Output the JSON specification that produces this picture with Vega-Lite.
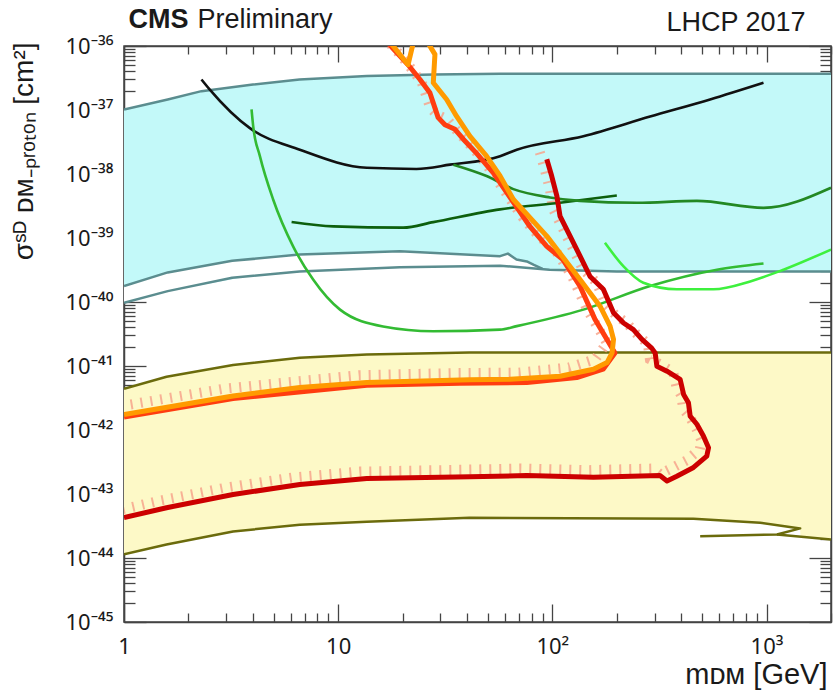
{
  "$schema": "https://vega.github.io/schema/vega-lite/v6.json",
  "width": 707,
  "height": 576,
  "autosize": {"type": "none"},
  "padding": {"left": 124, "top": 46, "right": 2, "bottom": 69},
  "background": "white",
  "config": {
    "view": {"stroke": "#444444", "strokeWidth": 1.5},
    "axis": {"grid": false, "zindex": 1, "labelFont": "Noto Sans", "titleFont": "Liberation Sans", "tickColor": "#444444", "domainColor": "#444444", "domainWidth": 1.5, "tickWidth": 1.3, "labelColor": "#1a1a1a", "titleColor": "#1a1a1a", "labelOverlap": false, "labelBound": false, "labelFlush": false}
  },
  "datasets": {
    "cyan": [
      {"x": 1, "lo": 9.7e-41, "hi": 1.02e-37},
      {"x": 1.6, "lo": 1.48e-40, "hi": 1.46e-37},
      {"x": 2.3, "lo": 1.85e-40, "hi": 1.97e-37},
      {"x": 4, "lo": 2.6e-40, "hi": 2.5e-37},
      {"x": 6.6, "lo": 3.0e-40, "hi": 3.0e-37},
      {"x": 13.6, "lo": 3.3e-40, "hi": 3.4e-37},
      {"x": 28, "lo": 3.5e-40, "hi": 3.6e-37},
      {"x": 57, "lo": 3.7e-40, "hi": 3.7e-37},
      {"x": 97, "lo": 3.2e-40, "hi": 3.7e-37},
      {"x": 200, "lo": 3.0e-40, "hi": 3.7e-37},
      {"x": 2000, "lo": 3.0e-40, "hi": 3.7e-37}
    ],
    "notch": [
      {"x": 1, "lo": 9.7e-41, "hi": 1.78e-40},
      {"x": 1.6, "lo": 1.48e-40, "hi": 2.9e-40},
      {"x": 3.2, "lo": 2.4e-40, "hi": 4.4e-40},
      {"x": 6.6, "lo": 3.0e-40, "hi": 5.5e-40},
      {"x": 19.4, "lo": 3.5e-40, "hi": 6.2e-40},
      {"x": 57, "lo": 3.7e-40, "hi": 5.2e-40},
      {"x": 62, "lo": 3.65e-40, "hi": 5.7e-40},
      {"x": 68, "lo": 3.6e-40, "hi": 4.6e-40},
      {"x": 76, "lo": 3.5e-40, "hi": 4.3e-40},
      {"x": 82, "lo": 3.4e-40, "hi": 3.8e-40},
      {"x": 90, "lo": 3.3e-40, "hi": 3.3e-40}
    ],
    "yellow": [
      {"x": 1, "lo": 1.14e-44, "hi": 4.4e-42},
      {"x": 1.58, "lo": 1.63e-44, "hi": 6.8e-42},
      {"x": 3.23, "lo": 2.6e-44, "hi": 1.04e-41},
      {"x": 6.62, "lo": 3.3e-44, "hi": 1.35e-41},
      {"x": 13.6, "lo": 3.7e-44, "hi": 1.51e-41},
      {"x": 41, "lo": 4.25e-44, "hi": 1.62e-41},
      {"x": 456, "lo": 4.1e-44, "hi": 1.62e-41},
      {"x": 934, "lo": 3.55e-44, "hi": 1.62e-41},
      {"x": 1436, "lo": 2.9e-44, "hi": 1.62e-41},
      {"x": 1440, "lo": 2.1e-44, "hi": 1.62e-41},
      {"x": 2000, "lo": 1.95e-44, "hi": 1.62e-41}
    ],
    "lines": [
      {"s": "cU", "o": 1, "x": 1, "y": 1.02e-37},
      {"s": "cU", "o": 2, "x": 1.6, "y": 1.46e-37},
      {"s": "cU", "o": 3, "x": 2.3, "y": 1.97e-37},
      {"s": "cU", "o": 4, "x": 4, "y": 2.5e-37},
      {"s": "cU", "o": 5, "x": 6.6, "y": 3.0e-37},
      {"s": "cU", "o": 6, "x": 13.6, "y": 3.4e-37},
      {"s": "cU", "o": 7, "x": 28, "y": 3.6e-37},
      {"s": "cU", "o": 8, "x": 57, "y": 3.7e-37},
      {"s": "cU", "o": 9, "x": 2000, "y": 3.7e-37},

      {"s": "cL0", "o": 1, "x": 1, "y": 9.7e-41},
      {"s": "cL0", "o": 2, "x": 1.6, "y": 1.48e-40},
      {"s": "cL0", "o": 3, "x": 3.2, "y": 2.4e-40},
      {"s": "cL0", "o": 4, "x": 6.6, "y": 3.0e-40},
      {"s": "cL0", "o": 5, "x": 19.4, "y": 3.5e-40},
      {"s": "cL0", "o": 6, "x": 57, "y": 3.7e-40},
      {"s": "cL0", "o": 7, "x": 97, "y": 3.2e-40},
      {"s": "cL0", "o": 8, "x": 200, "y": 3.0e-40},
      {"s": "cL0", "o": 9, "x": 2000, "y": 3.0e-40},

      {"s": "cL1", "o": 1, "x": 1, "y": 1.78e-40},
      {"s": "cL1", "o": 2, "x": 1.6, "y": 2.9e-40},
      {"s": "cL1", "o": 3, "x": 3.2, "y": 4.4e-40},
      {"s": "cL1", "o": 4, "x": 6.6, "y": 5.5e-40},
      {"s": "cL1", "o": 5, "x": 19.4, "y": 6.2e-40},
      {"s": "cL1", "o": 6, "x": 57, "y": 5.2e-40},
      {"s": "cL1", "o": 7, "x": 62, "y": 5.7e-40},
      {"s": "cL1", "o": 8, "x": 68, "y": 4.6e-40},
      {"s": "cL1", "o": 9, "x": 76, "y": 4.3e-40},
      {"s": "cL1", "o": 10, "x": 82, "y": 3.8e-40},
      {"s": "cL1", "o": 11, "x": 90, "y": 3.3e-40},

      {"s": "yU", "o": 1, "x": 1, "y": 4.4e-42},
      {"s": "yU", "o": 2, "x": 1.58, "y": 6.8e-42},
      {"s": "yU", "o": 3, "x": 3.23, "y": 1.04e-41},
      {"s": "yU", "o": 4, "x": 6.62, "y": 1.35e-41},
      {"s": "yU", "o": 5, "x": 13.6, "y": 1.51e-41},
      {"s": "yU", "o": 6, "x": 41, "y": 1.62e-41},
      {"s": "yU", "o": 7, "x": 2000, "y": 1.62e-41},

      {"s": "yA", "o": 1, "x": 1, "y": 1.14e-44},
      {"s": "yA", "o": 2, "x": 1.58, "y": 1.63e-44},
      {"s": "yA", "o": 3, "x": 3.23, "y": 2.6e-44},
      {"s": "yA", "o": 4, "x": 6.62, "y": 3.3e-44},
      {"s": "yA", "o": 5, "x": 13.6, "y": 3.7e-44},
      {"s": "yA", "o": 6, "x": 41, "y": 4.25e-44},
      {"s": "yA", "o": 7, "x": 456, "y": 4.1e-44},
      {"s": "yA", "o": 8, "x": 934, "y": 3.55e-44},
      {"s": "yA", "o": 9, "x": 1436, "y": 2.9e-44},
      {"s": "yA", "o": 10, "x": 1119, "y": 2.33e-44},
      {"s": "yA", "o": 11, "x": 490, "y": 2.19e-44},

      {"s": "yB", "o": 1, "x": 1119, "y": 2.33e-44},
      {"s": "yB", "o": 2, "x": 2000, "y": 1.95e-44},

      {"s": "black", "o": 1, "x": 2.3, "y": 3.0e-37},
      {"s": "black", "o": 2, "x": 2.51, "y": 2.1e-37},
      {"s": "black", "o": 3, "x": 3.87, "y": 5.2e-38},
      {"s": "black", "o": 4, "x": 6.62, "y": 2.4e-38},
      {"s": "black", "o": 5, "x": 13.6, "y": 1.25e-38},
      {"s": "black", "o": 6, "x": 23.2, "y": 1.2e-38},
      {"s": "black", "o": 7, "x": 33.3, "y": 1.4e-38},
      {"s": "black", "o": 8, "x": 57, "y": 1.9e-38},
      {"s": "black", "o": 9, "x": 68.2, "y": 2.4e-38},
      {"s": "black", "o": 10, "x": 139.6, "y": 3.9e-38},
      {"s": "black", "o": 11, "x": 286, "y": 7.9e-38},
      {"s": "black", "o": 12, "x": 545, "y": 1.46e-37},
      {"s": "black", "o": 13, "x": 968, "y": 2.66e-37},

      {"s": "g1", "o": 1, "x": 3.94, "y": 1.02e-37},
      {"s": "g1", "o": 2, "x": 4.01, "y": 5.6e-38},
      {"s": "g1", "o": 3, "x": 4.31, "y": 1.9e-38},
      {"s": "g1", "o": 4, "x": 4.97, "y": 4.0e-39},
      {"s": "g1", "o": 5, "x": 6.16, "y": 7.4e-40},
      {"s": "g1", "o": 6, "x": 7.64, "y": 2.24e-40},
      {"s": "g1", "o": 7, "x": 10.2, "y": 7.6e-41},
      {"s": "g1", "o": 8, "x": 16.2, "y": 4.15e-41},
      {"s": "g1", "o": 9, "x": 27.8, "y": 3.5e-41},
      {"s": "g1", "o": 10, "x": 57, "y": 3.7e-41},
      {"s": "g1", "o": 11, "x": 68.2, "y": 4.2e-41},
      {"s": "g1", "o": 12, "x": 139.6, "y": 7.6e-41},
      {"s": "g1", "o": 13, "x": 286, "y": 1.78e-40},
      {"s": "g1", "o": 14, "x": 587, "y": 3.2e-40},
      {"s": "g1", "o": 15, "x": 968, "y": 4.0e-40},

      {"s": "g2", "o": 1, "x": 176, "y": 8.4e-40},
      {"s": "g2", "o": 2, "x": 215, "y": 3.6e-40},
      {"s": "g2", "o": 3, "x": 266, "y": 2.0e-40},
      {"s": "g2", "o": 4, "x": 381, "y": 1.58e-40},
      {"s": "g2", "o": 5, "x": 565, "y": 1.58e-40},
      {"s": "g2", "o": 6, "x": 839, "y": 2.1e-40},
      {"s": "g2", "o": 7, "x": 1200, "y": 3.2e-40},
      {"s": "g2", "o": 8, "x": 2000, "y": 6.6e-40},

      {"s": "g3", "o": 1, "x": 6.06, "y": 1.78e-39},
      {"s": "g3", "o": 2, "x": 9.5, "y": 1.52e-39},
      {"s": "g3", "o": 3, "x": 20.1, "y": 1.45e-39},
      {"s": "g3", "o": 4, "x": 27.8, "y": 1.77e-39},
      {"s": "g3", "o": 5, "x": 57, "y": 2.8e-39},
      {"s": "g3", "o": 6, "x": 108.6, "y": 3.55e-39},
      {"s": "g3", "o": 7, "x": 200, "y": 4.6e-39},

      {"s": "g4", "o": 1, "x": 34.5, "y": 1.4e-38},
      {"s": "g4", "o": 2, "x": 49.3, "y": 9.3e-39},
      {"s": "g4", "o": 3, "x": 65.8, "y": 5.8e-39},
      {"s": "g4", "o": 4, "x": 97.5, "y": 4.3e-39},
      {"s": "g4", "o": 5, "x": 134.6, "y": 3.8e-39},
      {"s": "g4", "o": 6, "x": 248, "y": 3.55e-39},
      {"s": "g4", "o": 7, "x": 473, "y": 3.8e-39},
      {"s": "g4", "o": 8, "x": 968, "y": 2.96e-39},
      {"s": "g4", "o": 9, "x": 2000, "y": 6.1e-39},

      {"s": "orange", "o": 1, "x": 17.1, "y": 1.26e-36},
      {"s": "orange", "o": 2, "x": 21.2, "y": 5.1e-37},
      {"s": "orange", "o": 3, "x": 22.6, "y": 1.26e-36},
      {"s": "orange", "o": 4, "x": 25.7, "y": 1.26e-36},
      {"s": "orange", "o": 5, "x": 28.3, "y": 7.4e-37},
      {"s": "orange", "o": 6, "x": 27.8, "y": 2.66e-37},
      {"s": "orange", "o": 7, "x": 32.1, "y": 1.46e-37},
      {"s": "orange", "o": 8, "x": 35.7, "y": 8.0e-38},
      {"s": "orange", "o": 9, "x": 41.2, "y": 3.9e-38},
      {"s": "orange", "o": 10, "x": 49.3, "y": 1.9e-38},
      {"s": "orange", "o": 11, "x": 57, "y": 9.3e-39},
      {"s": "orange", "o": 12, "x": 65.8, "y": 4.0e-39},
      {"s": "orange", "o": 13, "x": 94.2, "y": 1.07e-39},
      {"s": "orange", "o": 14, "x": 134.6, "y": 2.25e-40},
      {"s": "orange", "o": 15, "x": 167, "y": 8.6e-41},
      {"s": "orange", "o": 16, "x": 186, "y": 4.2e-41},
      {"s": "orange", "o": 17, "x": 193, "y": 2.6e-41},
      {"s": "orange", "o": 18, "x": 190, "y": 1.6e-41},
      {"s": "orange", "o": 19, "x": 180, "y": 1.13e-41},
      {"s": "orange", "o": 20, "x": 155.5, "y": 8.9e-42},
      {"s": "orange", "o": 21, "x": 108.6, "y": 6.9e-42},
      {"s": "orange", "o": 22, "x": 63.5, "y": 6.2e-42},
      {"s": "orange", "o": 23, "x": 41.2, "y": 6.1e-42},
      {"s": "orange", "o": 24, "x": 13.6, "y": 5.5e-42},
      {"s": "orange", "o": 25, "x": 6.62, "y": 4.6e-42},
      {"s": "orange", "o": 26, "x": 3.23, "y": 3.4e-42},
      {"s": "orange", "o": 27, "x": 1.89, "y": 2.5e-42},
      {"s": "orange", "o": 28, "x": 1, "y": 1.74e-42},

      {"s": "ored", "o": 1, "x": 16.5, "y": 1.26e-36},
      {"s": "ored", "o": 2, "x": 21.2, "y": 5.1e-37},
      {"s": "ored", "o": 3, "x": 24.1, "y": 3.0e-37},
      {"s": "ored", "o": 4, "x": 26.8, "y": 1.86e-37},
      {"s": "ored", "o": 5, "x": 29.3, "y": 7.6e-38},
      {"s": "ored", "o": 6, "x": 31.5, "y": 5.9e-38},
      {"s": "ored", "o": 7, "x": 35.1, "y": 5.0e-38},
      {"s": "ored", "o": 8, "x": 38.4, "y": 3.5e-38},
      {"s": "ored", "o": 9, "x": 44.3, "y": 2.1e-38},
      {"s": "ored", "o": 10, "x": 53, "y": 1.04e-38},
      {"s": "ored", "o": 11, "x": 78.7, "y": 1.5e-39},
      {"s": "ored", "o": 12, "x": 94.2, "y": 7.4e-40},
      {"s": "ored", "o": 13, "x": 112, "y": 4.6e-40},
      {"s": "ored", "o": 14, "x": 134.6, "y": 1.77e-40},
      {"s": "ored", "o": 15, "x": 158, "y": 5.4e-41},
      {"s": "ored", "o": 16, "x": 196, "y": 1.6e-41},
      {"s": "ored", "o": 17, "x": 172.6, "y": 8.9e-42},
      {"s": "ored", "o": 18, "x": 130, "y": 6.6e-42},
      {"s": "ored", "o": 19, "x": 76, "y": 5.5e-42},
      {"s": "ored", "o": 20, "x": 37, "y": 5.4e-42},
      {"s": "ored", "o": 21, "x": 13.6, "y": 5.0e-42},
      {"s": "ored", "o": 22, "x": 3.23, "y": 3.1e-42},
      {"s": "ored", "o": 23, "x": 1, "y": 1.6e-42},

      {"s": "red", "o": 1, "x": 94.2, "y": 1.7e-38},
      {"s": "red", "o": 2, "x": 99.3, "y": 9.3e-39},
      {"s": "red", "o": 3, "x": 105, "y": 4.5e-39},
      {"s": "red", "o": 4, "x": 108.6, "y": 2.2e-39},
      {"s": "red", "o": 5, "x": 121, "y": 1.07e-39},
      {"s": "red", "o": 6, "x": 139.6, "y": 4.1e-40},
      {"s": "red", "o": 7, "x": 150, "y": 2.5e-40},
      {"s": "red", "o": 8, "x": 173, "y": 1.58e-40},
      {"s": "red", "o": 9, "x": 193, "y": 6.8e-41},
      {"s": "red", "o": 10, "x": 215, "y": 4.7e-41},
      {"s": "red", "o": 11, "x": 239, "y": 3.7e-41},
      {"s": "red", "o": 12, "x": 262, "y": 2.6e-41},
      {"s": "red", "o": 13, "x": 291, "y": 1.9e-41},
      {"s": "red", "o": 14, "x": 302, "y": 1.6e-41},
      {"s": "red", "o": 15, "x": 307.6, "y": 9.9e-42},
      {"s": "red", "o": 16, "x": 343, "y": 8.3e-42},
      {"s": "red", "o": 17, "x": 395, "y": 6.2e-42},
      {"s": "red", "o": 18, "x": 410, "y": 3.6e-42},
      {"s": "red", "o": 19, "x": 432, "y": 2.66e-42},
      {"s": "red", "o": 20, "x": 440, "y": 1.65e-42},
      {"s": "red", "o": 21, "x": 473, "y": 1.23e-42},
      {"s": "red", "o": 22, "x": 508, "y": 8.0e-43},
      {"s": "red", "o": 23, "x": 536, "y": 5.3e-43},
      {"s": "red", "o": 24, "x": 526, "y": 3.9e-43},
      {"s": "red", "o": 25, "x": 456, "y": 2.6e-43},
      {"s": "red", "o": 26, "x": 381, "y": 1.9e-43},
      {"s": "red", "o": 27, "x": 343, "y": 1.6e-43},
      {"s": "red", "o": 28, "x": 318, "y": 1.94e-43},
      {"s": "red", "o": 29, "x": 155.5, "y": 1.83e-43},
      {"s": "red", "o": 30, "x": 76, "y": 1.94e-43},
      {"s": "red", "o": 31, "x": 41.2, "y": 1.86e-43},
      {"s": "red", "o": 32, "x": 13.6, "y": 1.74e-43},
      {"s": "red", "o": 33, "x": 6.62, "y": 1.41e-43},
      {"s": "red", "o": 34, "x": 3.23, "y": 9.8e-44},
      {"s": "red", "o": 35, "x": 1.58, "y": 6.1e-44},
      {"s": "red", "o": 36, "x": 1, "y": 4.3e-44}
    ]
  },
  "resolve": {"axis": {"x": "independent", "y": "independent"}},
  "layer": [
    {
      "data": {"name": "cyan"},
      "mark": {"type": "area", "color": "#c3f9f9", "clip": true},
      "encoding": {
        "x": {"field": "x", "type": "quantitative", "scale": {"type": "log", "domain": [1, 2000], "nice": false},
          "axis": {"orient": "bottom", "values": [1, 10, 100, 1000],
            "labelExpr": "datum.value < 5 ? '1' : (datum.value < 50 ? '10' : (datum.value < 500 ? '10²' : '10³'))",
            "tickSize": -18,
            "labelFontSize": 22, "labelPadding": 32, "labelAlign": "center", "labelBaseline": "top",
            "title": "mᴅᴍ [GeV]", "titleFontSize": 29, "titleFontWeight": "normal", "titleX": 703, "titleY": 61, "titleAlign": "right", "titleBaseline": "alphabetic"}},
        "y": {"field": "lo", "type": "quantitative", "scale": {"type": "log", "domain": [1e-45, 1e-36], "nice": false},
          "axis": {"orient": "left", "values": [1e-45, 1e-44, 1e-43, 1e-42, 1e-41, 1e-40, 1e-39, 1e-38, 1e-37, 1e-36],
            "labelExpr": "'10⁻'+substring('⁰¹²³⁴⁵⁶⁷⁸⁹',floor(-round(log(datum.value)/LN10)/10),floor(-round(log(datum.value)/LN10)/10)+1)+substring('⁰¹²³⁴⁵⁶⁷⁸⁹',(-round(log(datum.value)/LN10))%10,(-round(log(datum.value)/LN10))%10+1)",
            "tickSize": -22,
            "labelFontSize": 22, "labelPadding": 33, "labelBaseline": "middle", "labelAlign": "right",
            "title": "σˢᴰ ᴅᴍ₋ₚᵣₒₜₒₙ [cm²]", "titleFontSize": 28, "titleFontWeight": "normal", "titleAngle": -90, "titleX": -100, "titleY": -4, "titleAlign": "right", "titleBaseline": "middle"}},
        "y2": {"field": "hi"}
      }
    },
    {
      "data": {"name": "notch"},
      "mark": {"type": "area", "color": "#ffffff", "clip": true},
      "encoding": {
        "x": {"field": "x", "type": "quantitative", "scale": {"type": "log", "domain": [1, 2000], "nice": false},
          "axis": {"orient": "top", "values": [1, 10, 100, 1000], "labels": false, "tickSize": -16,
            "title": "CMS", "titleFontSize": 27, "titleFontWeight": "bold", "titleX": 4, "titleY": -19, "titleAlign": "left", "titleBaseline": "alphabetic"}},
        "y": {"field": "lo", "type": "quantitative", "scale": {"type": "log", "domain": [1e-45, 1e-36], "nice": false},
          "axis": {"orient": "right", "values": [1e-45, 1e-44, 1e-43, 1e-42, 1e-41, 1e-40, 1e-39, 1e-38, 1e-37, 1e-36], "labels": false, "tickSize": -22,
            "title": "LHCP 2017", "titleFontSize": 27, "titleFontWeight": "normal", "titleAngle": 0, "titleX": -26, "titleY": -16, "titleAlign": "right", "titleBaseline": "alphabetic"}},
        "y2": {"field": "hi"}
      }
    },
    {
      "data": {"name": "yellow"},
      "mark": {"type": "area", "color": "#fdf9c7", "clip": true},
      "encoding": {
        "x": {"field": "x", "type": "quantitative", "scale": {"type": "log", "domain": [1, 2000], "nice": false},
          "axis": {"orient": "bottom", "values": [2,3,4,5,6,7,8,9,20,30,40,50,60,70,80,90,200,300,400,500,600,700,800,900,2000], "labels": false, "domain": false, "tickSize": -9, "title": null}},
        "y": {"field": "lo", "type": "quantitative", "scale": {"type": "log", "domain": [1e-45, 1e-36], "nice": false},
          "axis": {"orient": "left", "values": [2e-45,3e-45,4e-45,5e-45,6e-45,7e-45,8e-45,9e-45,2e-44,3e-44,4e-44,5e-44,6e-44,7e-44,8e-44,9e-44,2e-43,3e-43,4e-43,5e-43,6e-43,7e-43,8e-43,9e-43,2e-42,3e-42,4e-42,5e-42,6e-42,7e-42,8e-42,9e-42,2e-41,3e-41,4e-41,5e-41,6e-41,7e-41,8e-41,9e-41,2e-40,3e-40,4e-40,5e-40,6e-40,7e-40,8e-40,9e-40,2e-39,3e-39,4e-39,5e-39,6e-39,7e-39,8e-39,9e-39,2e-38,3e-38,4e-38,5e-38,6e-38,7e-38,8e-38,9e-38,2e-37,3e-37,4e-37,5e-37,6e-37,7e-37,8e-37,9e-37], "labels": false, "domain": false, "tickSize": -11, "title": null}},
        "y2": {"field": "hi"}
      }
    },
    {
      "data": {"name": "lines"},
      "transform": [{"filter": {"field": "s", "oneOf": ["cU", "cL0", "cL1", "yU", "yA", "yB"]}}],
      "mark": {"type": "line", "strokeWidth": 2.5, "clip": true, "strokeJoin": "round"},
      "encoding": {
        "x": {"field": "x", "type": "quantitative", "scale": {"type": "log", "domain": [1, 2000], "nice": false},
          "axis": {"orient": "top", "values": [2,3,4,5,6,7,8,9,20,30,40,50,60,70,80,90,200,300,400,500,600,700,800,900,2000], "labels": false, "domain": false, "tickSize": -8,
            "title": "Preliminary", "titleFont": "Liberation Sans", "titleFontSize": 27, "titleFontWeight": "normal", "titleX": 73, "titleY": -19, "titleAlign": "left", "titleBaseline": "alphabetic"}},
        "y": {"field": "y", "type": "quantitative", "scale": {"type": "log", "domain": [1e-45, 1e-36], "nice": false},
          "axis": {"orient": "right", "values": [2e-45,3e-45,4e-45,5e-45,6e-45,7e-45,8e-45,9e-45,2e-44,3e-44,4e-44,5e-44,6e-44,7e-44,8e-44,9e-44,2e-43,3e-43,4e-43,5e-43,6e-43,7e-43,8e-43,9e-43,2e-42,3e-42,4e-42,5e-42,6e-42,7e-42,8e-42,9e-42,2e-41,3e-41,4e-41,5e-41,6e-41,7e-41,8e-41,9e-41,2e-40,3e-40,4e-40,5e-40,6e-40,7e-40,8e-40,9e-40,2e-39,3e-39,4e-39,5e-39,6e-39,7e-39,8e-39,9e-39,2e-38,3e-38,4e-38,5e-38,6e-38,7e-38,8e-38,9e-38,2e-37,3e-37,4e-37,5e-37,6e-37,7e-37,8e-37,9e-37], "labels": false, "domain": false, "tickSize": -11, "title": null}},
        "order": {"field": "o"},
        "color": {"field": "s", "type": "nominal", "legend": null,
          "scale": {"domain": ["cU","cL0","cL1","yU","yA","yB","black","g1","g2","g3","g4","orange","ored","red"], "range": ["#5b8d8f","#5b8d8f","#5b8d8f","#6b6b0c","#6b6b0c","#6b6b0c","#111111","#33bb33","#3ef03e","#0d5f0d","#238823","#ff9a00","#ff3d10","#cc0000"]}}
      }
    },
    {
      "data": {"name": "lines"},
      "transform": [{"filter": {"field": "s", "oneOf": ["ored"]}}],
      "mark": {"type": "line", "strokeWidth": 10, "strokeDash": [2, 8], "color": "#f7a58c", "opacity": 0.85, "xOffset": -8, "yOffset": -10, "clip": true},
      "encoding": {
        "x": {"field": "x", "type": "quantitative", "scale": {"type": "log", "domain": [1, 2000], "nice": false}, "axis": null},
        "y": {"field": "y", "type": "quantitative", "scale": {"type": "log", "domain": [1e-45, 1e-36], "nice": false}, "axis": null},
        "order": {"field": "o"}
      }
    },
    {
      "data": {"name": "lines"},
      "transform": [{"filter": {"field": "s", "oneOf": ["red"]}}],
      "mark": {"type": "line", "strokeWidth": 10, "strokeDash": [2, 8], "color": "#f7a58c", "opacity": 0.85, "xOffset": -7, "yOffset": -7, "clip": true},
      "encoding": {
        "x": {"field": "x", "type": "quantitative", "scale": {"type": "log", "domain": [1, 2000], "nice": false}, "axis": null},
        "y": {"field": "y", "type": "quantitative", "scale": {"type": "log", "domain": [1e-45, 1e-36], "nice": false}, "axis": null},
        "order": {"field": "o"}
      }
    },
    {
      "data": {"name": "lines"},
      "transform": [{"filter": {"field": "s", "oneOf": ["black", "g1", "g2", "g3", "g4"]}}],
      "mark": {"type": "line", "strokeWidth": 2.6, "clip": true, "strokeJoin": "round", "interpolate": "monotone"},
      "encoding": {
        "x": {"field": "x", "type": "quantitative", "scale": {"type": "log", "domain": [1, 2000], "nice": false}, "axis": null},
        "y": {"field": "y", "type": "quantitative", "scale": {"type": "log", "domain": [1e-45, 1e-36], "nice": false}, "axis": null},
        "order": {"field": "o"},
        "color": {"field": "s", "type": "nominal", "legend": null,
          "scale": {"domain": ["cU","cL0","cL1","yU","yA","yB","black","g1","g2","g3","g4","orange","ored","red"], "range": ["#5b8d8f","#5b8d8f","#5b8d8f","#6b6b0c","#6b6b0c","#6b6b0c","#111111","#33bb33","#3ef03e","#0d5f0d","#238823","#ff9a00","#ff3d10","#cc0000"]}}
      }
    },
    {
      "data": {"name": "lines"},
      "transform": [{"filter": {"field": "s", "oneOf": ["ored"]}}],
      "mark": {"type": "line", "strokeWidth": 5, "clip": true, "strokeJoin": "round", "color": "#ff3d10"},
      "encoding": {
        "x": {"field": "x", "type": "quantitative", "scale": {"type": "log", "domain": [1, 2000], "nice": false}, "axis": null},
        "y": {"field": "y", "type": "quantitative", "scale": {"type": "log", "domain": [1e-45, 1e-36], "nice": false}, "axis": null},
        "order": {"field": "o"}
      }
    },
    {
      "data": {"name": "lines"},
      "transform": [{"filter": {"field": "s", "oneOf": ["orange"]}}],
      "mark": {"type": "line", "strokeWidth": 5, "clip": true, "strokeJoin": "round", "color": "#ff9a00"},
      "encoding": {
        "x": {"field": "x", "type": "quantitative", "scale": {"type": "log", "domain": [1, 2000], "nice": false}, "axis": null},
        "y": {"field": "y", "type": "quantitative", "scale": {"type": "log", "domain": [1e-45, 1e-36], "nice": false}, "axis": null},
        "order": {"field": "o"}
      }
    },
    {
      "data": {"name": "lines"},
      "transform": [{"filter": {"field": "s", "oneOf": ["red"]}}],
      "mark": {"type": "line", "strokeWidth": 5, "clip": true, "strokeJoin": "round", "color": "#cc0000"},
      "encoding": {
        "x": {"field": "x", "type": "quantitative", "scale": {"type": "log", "domain": [1, 2000], "nice": false}, "axis": null},
        "y": {"field": "y", "type": "quantitative", "scale": {"type": "log", "domain": [1e-45, 1e-36], "nice": false}, "axis": null},
        "order": {"field": "o"}
      }
    }
  ]
}
